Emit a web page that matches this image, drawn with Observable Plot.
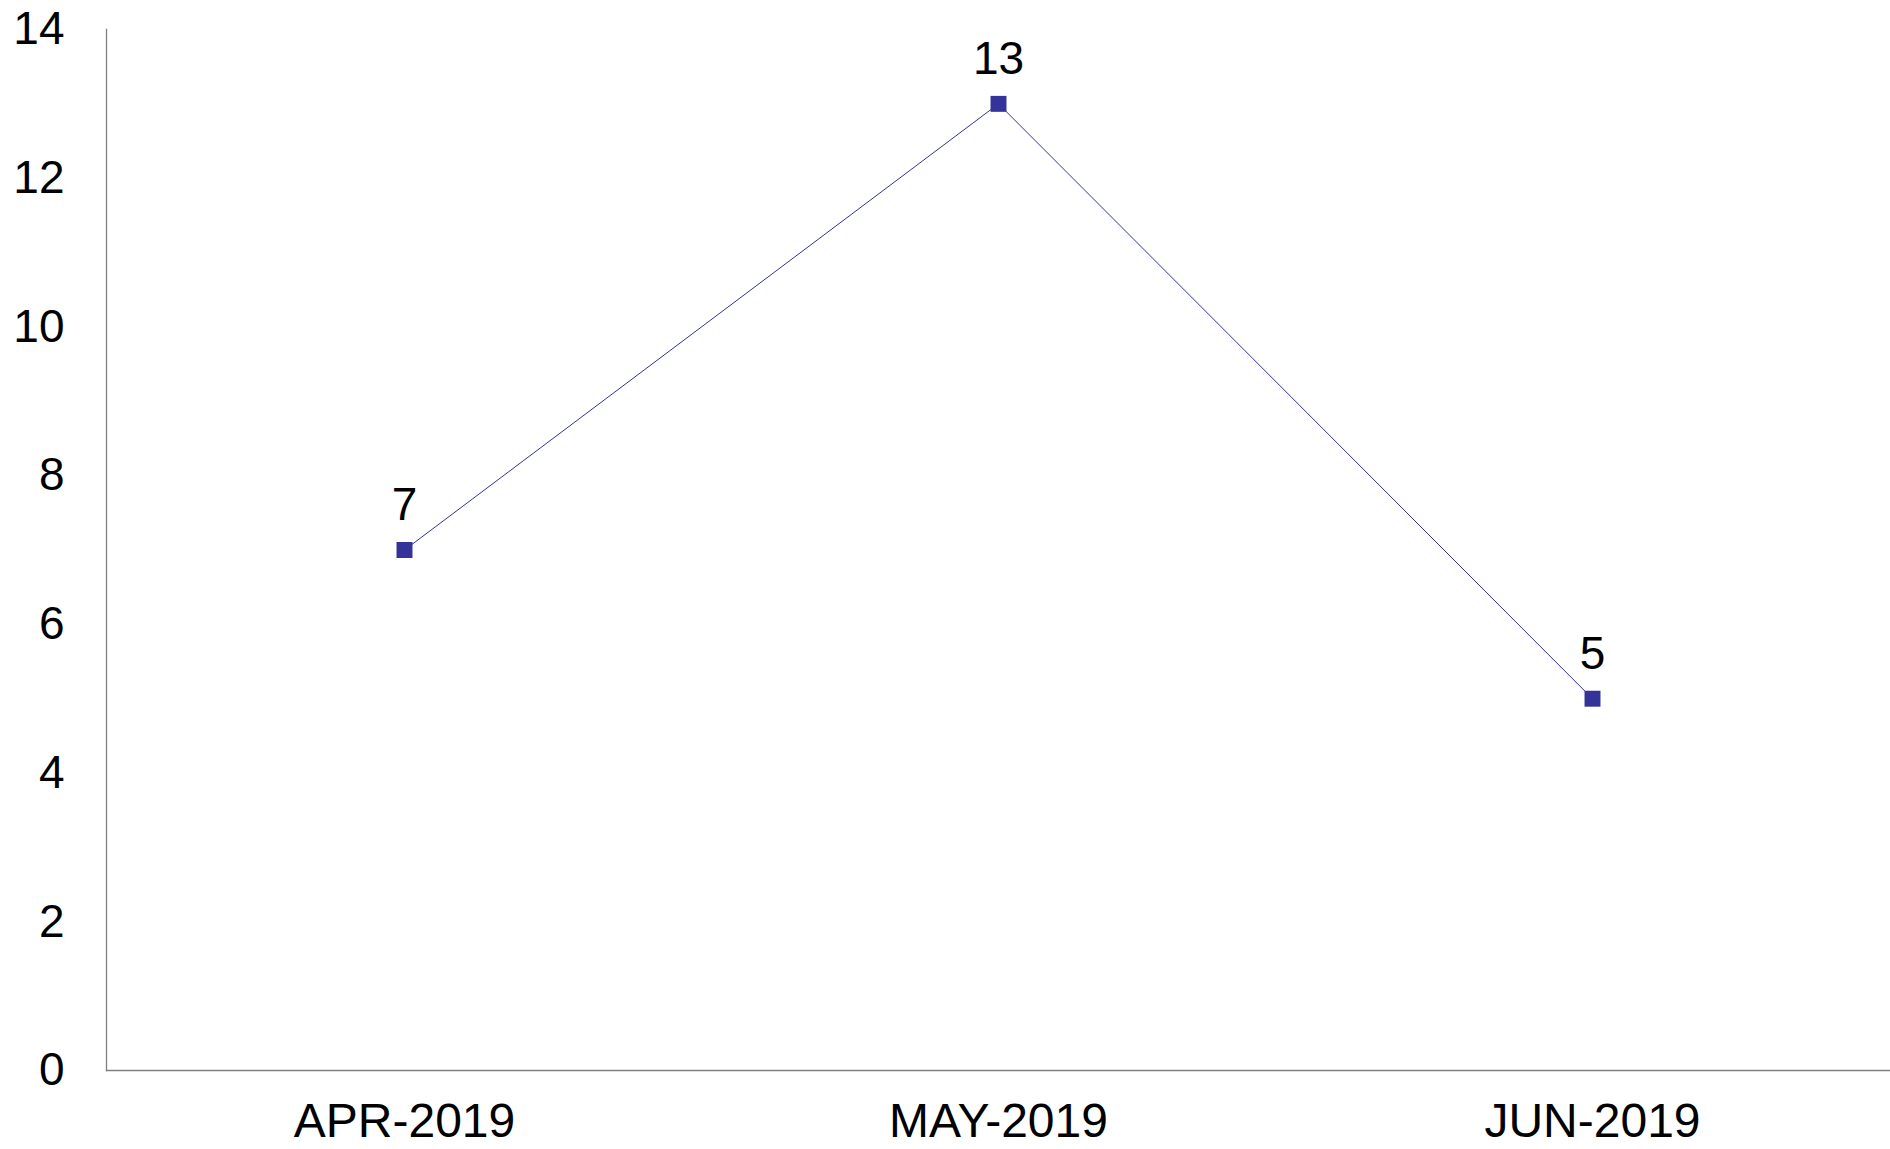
<!DOCTYPE html>
<html>
<head>
<meta charset="utf-8">
<script src="https://cdn.jsdelivr.net/npm/d3@7"></script>
<script src="https://cdn.jsdelivr.net/npm/@observablehq/plot@0.6"></script>
<style>
  html, body { margin: 0; padding: 0; background: #fff; }
  #chart svg { display: block; }
</style>
</head>
<body>
<div id="chart"></div>
<script>
const months = ["APR-2019", "MAY-2019", "JUN-2019"];
const counts = [7, 13, 5];
const yTicks = [0, 2, 4, 6, 8, 10, 12, 14];

const data = months.map((m, i) => ({month: m, value: counts[i]}));

const chart = Plot.plot({
  width: 1890,
  height: 1149,
  marginLeft: 106,
  marginRight: 0,
  marginTop: 29,
  marginBottom: 79,
  style: {fontFamily: "'Liberation Sans', Arial, sans-serif", background: "#fff", color: "#000"},
  x: {type: "point", domain: months, padding: 0.5},
  y: {domain: [0, 14]},
  marks: [
    Plot.frame({anchor: "left", stroke: "#808080", strokeWidth: 1.3}),
    Plot.frame({anchor: "bottom", stroke: "#808080", strokeWidth: 1.3}),
    Plot.axisY({ticks: yTicks, tickSize: 0, tickPadding: 42, fontSize: 46, label: null, textAnchor: "end", fill: "#000"}),
    Plot.axisX({tickSize: 0, tickPadding: 32, fontSize: 48, label: null, fill: "#000"}),
    Plot.line(data, {x: "month", y: "value", stroke: "#333399", strokeWidth: 1}),
    Plot.dot(data, {x: "month", y: "value", symbol: "square", r: 9, fill: "#333399", stroke: "none"}),
    Plot.text(data, {x: "month", y: "value", text: d => String(d.value), dy: -30, lineAnchor: "bottom", fontSize: 46, fill: "#000"})
  ]
});
document.getElementById("chart").appendChild(chart);
</script>
</body>
</html>
